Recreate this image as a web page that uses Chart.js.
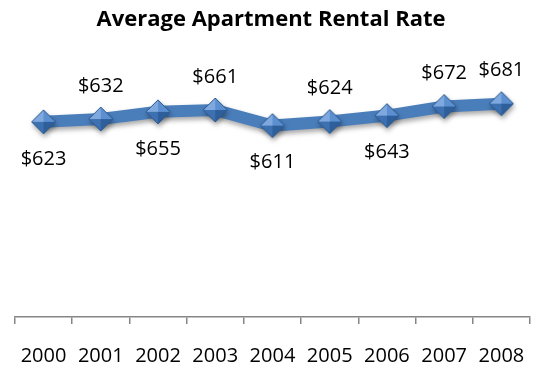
<!DOCTYPE html>
<html>
<head>
<meta charset="utf-8">
<script src="https://cdn.jsdelivr.net/npm/chart.js@4"></script>
<style>
  html, body { margin: 0; padding: 0; background: #fff; }
  canvas { display: block; }
</style>
</head>
<body>
<canvas id="chart" width="558" height="369"></canvas>
<script>
const years = ['2000', '2001', '2002', '2003', '2004', '2005', '2006', '2007', '2008'];
const rents = [623, 632, 655, 661, 611, 624, 643, 672, 681];
const labelAbove = [false, true, false, true, false, true, false, true, true];
const chartTitle = 'Average Apartment Rental Rate';

const FONT = '"Open Sans", Lato, sans-serif';
const LINE_BLUE = '#4a7ebb';

// faceted diamond marker
function makeDiamond(r) {
  const c = document.createElement('canvas');
  const s = r * 2 + 2;
  c.width = s;
  c.height = s;
  const g = c.getContext('2d');
  const m = s / 2;
  const top = [m, m - r], right = [m + r, m], bottom = [m, m + r], left = [m - r, m];
  const mid = [m, m];
  const facet = (a, b, color) => {
    g.beginPath();
    g.moveTo(a[0], a[1]);
    g.lineTo(b[0], b[1]);
    g.lineTo(mid[0], mid[1]);
    g.closePath();
    g.fillStyle = color;
    g.fill();
  };
  facet(left, top, '#7fa9de');
  facet(top, right, '#5b8fd0');
  facet(right, bottom, '#2f5f9a');
  facet(bottom, left, '#3c70b0');
  g.beginPath();
  g.moveTo(top[0], top[1]);
  g.lineTo(right[0], right[1]);
  g.lineTo(bottom[0], bottom[1]);
  g.lineTo(left[0], left[1]);
  g.closePath();
  g.strokeStyle = '#2c5a92';
  g.lineWidth = 1;
  g.stroke();
  return c;
}

const shadowPlugin = {
  id: 'lineShadow',
  beforeDatasetsDraw(chart) {
    const ctx = chart.ctx;
    ctx.save();
    ctx.shadowColor = 'rgba(0,0,0,0.35)';
    ctx.shadowBlur = 5;
    ctx.shadowOffsetX = 1;
    ctx.shadowOffsetY = 3;
  },
  afterDatasetsDraw(chart) {
    chart.ctx.restore();
  }
};

// value labels above or below each point
const valueLabels = {
  id: 'valueLabels',
  afterDraw(chart) {
    const ctx = chart.ctx;
    const meta = chart.getDatasetMeta(0);
    ctx.save();
    ctx.font = '20px ' + FONT;
    ctx.fillStyle = '#000';
    ctx.textAlign = 'center';
    ctx.textBaseline = 'middle';
    meta.data.forEach((pt, i) => {
      const dy = labelAbove[i] ? -33 : 37;
      ctx.fillText('$' + rents[i], pt.x, pt.y + dy);
    });
    ctx.restore();
  }
};

new Chart(document.getElementById('chart'), {
  type: 'line',
  data: {
    labels: years,
    datasets: [{
      data: rents,
      borderColor: LINE_BLUE,
      borderWidth: 12,
      borderJoinStyle: 'miter',
      tension: 0,
      pointStyle: makeDiamond(12),
      pointRadius: 12,
      pointHoverRadius: 12
    }]
  },
  options: {
    responsive: false,
    animation: false,
    events: [],
    // tick padding is reserved twice by the scale, so give some back at the bottom
    layout: { autoPadding: false, padding: { left: 12, right: 28, top: 0, bottom: -19 } },
    plugins: {
      legend: { display: false },
      tooltip: { enabled: false },
      title: {
        display: true,
        text: chartTitle,
        color: '#000',
        font: { family: FONT, size: 22, weight: 'bold' },
        padding: { top: 7, bottom: 33 }
      }
    },
    scales: {
      x: {
        offset: true,
        grid: {
          offset: true,
          drawOnChartArea: false,
          tickLength: 7,
          color: '#868686',
          lineWidth: 1.5
        },
        border: { color: '#868686', width: 1.5 },
        ticks: {
          color: '#000',
          padding: 20,
          font: { family: FONT, size: 20 }
        }
      },
      y: {
        display: false,
        min: 0,
        max: 800
      }
    }
  },
  plugins: [shadowPlugin, valueLabels]
});
</script>
</body>
</html>
